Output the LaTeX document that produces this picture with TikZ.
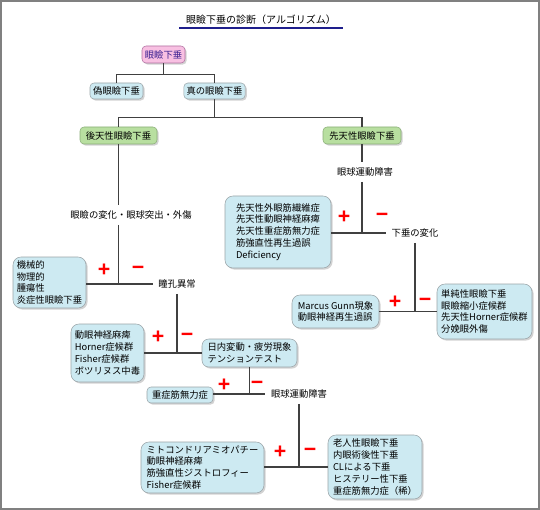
\documentclass[tikz,border=0pt]{standalone}
\usepackage{fontspec}
\setmainfont{Noto Sans CJK JP}
\newfontfamily\signfont{Liberation Sans}
\usetikzlibrary{shadows, positioning}

\definecolor{boxblue}{HTML}{CDEAF2}
\definecolor{boxgreen}{HTML}{B8DFA0}
\definecolor{boxpink}{HTML}{F8C0E2}
\definecolor{pinkedge}{HTML}{B070A0}
\definecolor{greenedge}{HTML}{8AAE78}
\definecolor{edgegray}{HTML}{9AA4A8}
\definecolor{rootink}{HTML}{3A2090}
\definecolor{titleline}{HTML}{1E1E8C}
\definecolor{framegray}{HTML}{808080}

\begin{document}
\begin{tikzpicture}[x=0.75pt, y=-0.75pt, font=\fontsize{7}{8.9}\selectfont]
  % --- STYLE DEFINITIONS ---
  \tikzstyle{wire}=[draw=black!75, line width=0.9pt]
  \tikzstyle{shade}=[drop shadow={shadow xshift=1.2pt, shadow yshift=-1.2pt, fill=black!35}]
  \tikzstyle{tagbox}=[rounded corners=3pt, fill=boxblue, draw=edgegray, inner sep=2pt, shade]
  \tikzstyle{rootbox}=[tagbox, fill=boxpink, draw=pinkedge, text=rootink]
  \tikzstyle{groupbox}=[tagbox, fill=boxgreen, draw=greenedge]
  \tikzstyle{listbox}=[rounded corners=6pt, fill=boxblue, draw=edgegray, align=left, inner sep=2.5pt, shade]
  \tikzstyle{cue}=[inner sep=4pt]
  \tikzstyle{sign}=[text=red, inner sep=0pt, font=\signfont\bfseries\fontsize{16}{16}\selectfont]

  \useasboundingbox (0,0) rectangle (540,510);
  \draw[framegray, line width=1.5pt] (1,1) rectangle (539,509);

  % =================================================================
  % TITLE
  % =================================================================
  \node[inner xsep=5pt, inner ysep=2.5pt] (title) at (261,20) {\fontsize{7.5}{9}\selectfont 眼瞼下垂の診断（アルゴリズム）};
  \draw[titleline, line width=1.5pt] (title.south west) -- (title.south east);

  % =================================================================
  % TOP: TRUE OR PSEUDO
  % =================================================================
  \node[rootbox, minimum width=32.25pt, minimum height=12.75pt] (root) at (163.5,54.5) {眼瞼下垂};
  \node[tagbox, minimum width=39.75pt, minimum height=12pt] (pseudo) at (116.5,91) {偽眼瞼下垂};
  \node[tagbox, minimum width=45.75pt, minimum height=12pt] (truep) at (214.5,91) {真の眼瞼下垂};
  \draw[wire] (root.south) -- ++(0,11) coordinate (split0);
  \draw[wire] (pseudo.north) |- (split0) -| (truep.north);

  \node[groupbox, minimum width=57.75pt, minimum height=12.75pt] (acq) at (118.5,135.5) {後天性眼瞼下垂};
  \node[groupbox, minimum width=58.5pt, minimum height=12.75pt] (cong) at (362,135.5) {先天性眼瞼下垂};
  \draw[wire] (truep.south) -- ++(0,18) coordinate (split1);
  \draw[wire] (acq.north) |- (split1) -| (cong.north);

  % =================================================================
  % ACQUIRED BRANCH
  % =================================================================
  \node[cue] (lidchg) at (131,215) {眼瞼の変化・眼球突出・外傷};
  \node[cue] (pupil) at (177,284) {瞳孔異常};
  \node[listbox, minimum width=54.75pt, minimum height=38.25pt] (mech) at (49.5,282.5) {機械的\\物理的\\腫瘍性\\炎症性眼瞼下垂};
  \draw[wire] (acq.south) -- (acq.south |- lidchg.north);
  \draw[wire] (acq.south |- lidchg.south) -- (acq.south |- pupil.west);
  \draw[wire] (mech.east |- pupil.west) -- (pupil.west);
  \node[sign] (plus1) at (104,270) {+};
  \node[sign] (minus1) at (138,270) {−};

  \node[listbox, minimum width=54.75pt, minimum height=43.5pt] (cn3) at (107.5,353) {動眼神経麻痺\\Horner症候群\\Fisher症候群\\ボツリヌス中毒};
  \node[tagbox, align=left, rounded corners=5pt, minimum width=71.25pt, minimum height=21pt] (fatigue) at (249.5,353) {日内変動・疲労現象\\テンションテスト};
  \draw[wire] (pupil.south) -- (pupil.south |- fatigue.west);
  \draw[wire] (cn3.east |- fatigue.west) -- (fatigue.west);
  \node[sign] (plus2) at (158,337) {+};
  \node[sign] (minus2) at (187,337) {−};

  \node[tagbox, minimum width=49.5pt, minimum height=12pt] (mg) at (180,395) {重症筋無力症};
  \node[cue] (eom2) at (299,394) {眼球運動障害};
  \draw[wire] (fatigue.south) -- (fatigue.south |- eom2.west);
  \draw[wire] (mg.east |- eom2.west) -- (eom2.west);
  \node[sign] (plus3) at (224,385) {+};
  \node[sign] (minus3) at (257,385) {−};

  \node[listbox, minimum width=92.25pt, minimum height=38.25pt] (mito) at (202.5,467.5) {ミトコンドリアミオパチー\\動眼神経麻痺\\筋強直性ジストロフィー\\Fisher症候群};
  \node[listbox, minimum width=70.5pt, minimum height=48pt] (senile) at (375,467) {老人性眼瞼下垂\\内眼術後性下垂\\CLによる下垂\\ヒステリー性下垂\\重症筋無力症（稀）};
  \draw[wire] (eom2.south) -- (eom2.south |- senile.west);
  \draw[wire] (mito.east |- senile.west) -- (senile.west);
  \node[sign] (plus4) at (280,452) {+};
  \node[sign] (minus4) at (310,452) {−};

  % =================================================================
  % CONGENITAL BRANCH
  % =================================================================
  \node[cue] (eom1) at (365,172) {眼球運動障害};
  \node[cue] (droop) at (415,233) {下垂の変化};
  \node[listbox, minimum width=79.5pt, minimum height=54pt] (congfib) at (278,232) {先天性外眼筋繊維症\\先天性動眼神経麻痺\\先天性重症筋無力症\\筋強直性再生過誤\\Deficiency};
  \draw[wire] (cong.south) -- (cong.south |- eom1.north);
  \draw[wire] (cong.south |- eom1.south) -- (cong.south |- droop.west);
  \draw[wire] (congfib.east |- droop.west) -- (droop.west);
  \node[sign] (plus5) at (344,217) {+};
  \node[sign] (minus5) at (382,217) {−};

  \node[listbox, minimum width=65.25pt, minimum height=24.75pt] (marcus) at (335.5,311.5) {Marcus Gunn現象\\動眼神経再生過誤};
  \node[listbox, minimum width=71.25pt, minimum height=41.25pt] (simple) at (484.5,311.5) {単純性眼瞼下垂\\眼瞼縮小症候群\\先天性Horner症候群\\分娩眼外傷};
  \draw[wire] (droop.south) -- (droop.south |- simple.west);
  \draw[wire] (marcus.east |- simple.west) -- (simple.west);
  \node[sign] (plus6) at (395,302) {+};
  \node[sign] (minus6) at (425,302) {−};
\end{tikzpicture}
\end{document}
